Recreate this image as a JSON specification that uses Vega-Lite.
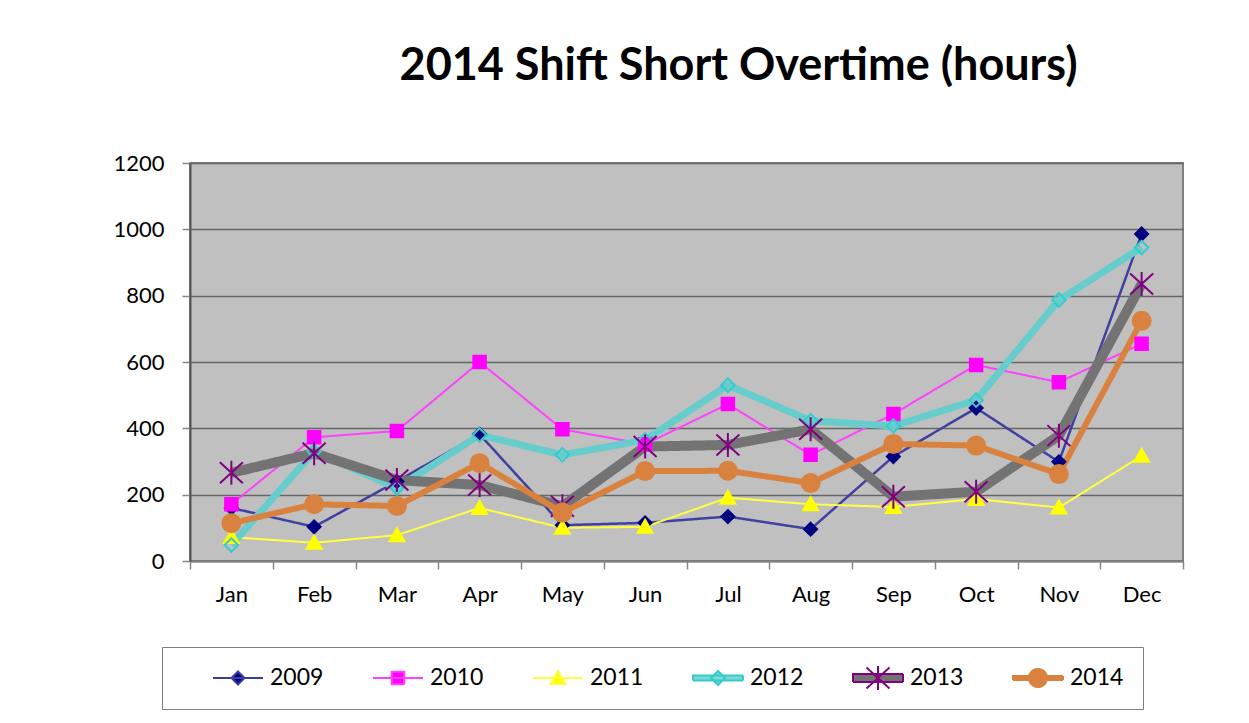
{
  "$schema": "https://vega.github.io/schema/vega-lite/v6.json",
  "width": 993,
  "height": 398,
  "autosize": {"type": "none"},
  "padding": {"left": 190, "top": 163, "right": 66, "bottom": 162},
  "background": "white",
  "title": {"text": "2014 Shift Short Overtime (hours)", "font": "Lato", "fontSize": 45, "fontWeight": "bold", "color": "black", "anchor": "middle", "dx": 52, "offset": 27, "baseline": "alphabetic"},
  "config": {"view": {"fill": "#c0c0c0", "stroke": "#808080", "strokeWidth": 2}},
  "data": {"values": [
    {"month": "Jan", "m": 1, "year": "2009", "value": 160}, {"month": "Feb", "m": 2, "year": "2009", "value": 103}, {"month": "Mar", "m": 3, "year": "2009", "value": 240}, {"month": "Apr", "m": 4, "year": "2009", "value": 382}, {"month": "May", "m": 5, "year": "2009", "value": 108}, {"month": "Jun", "m": 6, "year": "2009", "value": 115}, {"month": "Jul", "m": 7, "year": "2009", "value": 134}, {"month": "Aug", "m": 8, "year": "2009", "value": 96}, {"month": "Sep", "m": 9, "year": "2009", "value": 315}, {"month": "Oct", "m": 10, "year": "2009", "value": 461}, {"month": "Nov", "m": 11, "year": "2009", "value": 299}, {"month": "Dec", "m": 12, "year": "2009", "value": 986},
    {"month": "Jan", "m": 1, "year": "2010", "value": 171}, {"month": "Feb", "m": 2, "year": "2010", "value": 373}, {"month": "Mar", "m": 3, "year": "2010", "value": 392}, {"month": "Apr", "m": 4, "year": "2010", "value": 600}, {"month": "May", "m": 5, "year": "2010", "value": 397}, {"month": "Jun", "m": 6, "year": "2010", "value": 352}, {"month": "Jul", "m": 7, "year": "2010", "value": 473}, {"month": "Aug", "m": 8, "year": "2010", "value": 320}, {"month": "Sep", "m": 9, "year": "2010", "value": 443}, {"month": "Oct", "m": 10, "year": "2010", "value": 591}, {"month": "Nov", "m": 11, "year": "2010", "value": 539}, {"month": "Dec", "m": 12, "year": "2010", "value": 655},
    {"month": "Jan", "m": 1, "year": "2011", "value": 72}, {"month": "Feb", "m": 2, "year": "2011", "value": 55}, {"month": "Mar", "m": 3, "year": "2011", "value": 78}, {"month": "Apr", "m": 4, "year": "2011", "value": 160}, {"month": "May", "m": 5, "year": "2011", "value": 100}, {"month": "Jun", "m": 6, "year": "2011", "value": 103}, {"month": "Jul", "m": 7, "year": "2011", "value": 191}, {"month": "Aug", "m": 8, "year": "2011", "value": 171}, {"month": "Sep", "m": 9, "year": "2011", "value": 163}, {"month": "Oct", "m": 10, "year": "2011", "value": 187}, {"month": "Nov", "m": 11, "year": "2011", "value": 161}, {"month": "Dec", "m": 12, "year": "2011", "value": 317},
    {"month": "Jan", "m": 1, "year": "2012", "value": 48}, {"month": "Feb", "m": 2, "year": "2012", "value": 330}, {"month": "Mar", "m": 3, "year": "2012", "value": 220}, {"month": "Apr", "m": 4, "year": "2012", "value": 380}, {"month": "May", "m": 5, "year": "2012", "value": 320}, {"month": "Jun", "m": 6, "year": "2012", "value": 365}, {"month": "Jul", "m": 7, "year": "2012", "value": 530}, {"month": "Aug", "m": 8, "year": "2012", "value": 423}, {"month": "Sep", "m": 9, "year": "2012", "value": 407}, {"month": "Oct", "m": 10, "year": "2012", "value": 485}, {"month": "Nov", "m": 11, "year": "2012", "value": 787}, {"month": "Dec", "m": 12, "year": "2012", "value": 945},
    {"month": "Jan", "m": 1, "year": "2013", "value": 266}, {"month": "Feb", "m": 2, "year": "2013", "value": 325}, {"month": "Mar", "m": 3, "year": "2013", "value": 244}, {"month": "Apr", "m": 4, "year": "2013", "value": 229}, {"month": "May", "m": 5, "year": "2013", "value": 165}, {"month": "Jun", "m": 6, "year": "2013", "value": 345}, {"month": "Jul", "m": 7, "year": "2013", "value": 350}, {"month": "Aug", "m": 8, "year": "2013", "value": 397}, {"month": "Sep", "m": 9, "year": "2013", "value": 194}, {"month": "Oct", "m": 10, "year": "2013", "value": 209}, {"month": "Nov", "m": 11, "year": "2013", "value": 378}, {"month": "Dec", "m": 12, "year": "2013", "value": 835},
    {"month": "Jan", "m": 1, "year": "2014", "value": 114}, {"month": "Feb", "m": 2, "year": "2014", "value": 171}, {"month": "Mar", "m": 3, "year": "2014", "value": 166}, {"month": "Apr", "m": 4, "year": "2014", "value": 295}, {"month": "May", "m": 5, "year": "2014", "value": 146}, {"month": "Jun", "m": 6, "year": "2014", "value": 271}, {"month": "Jul", "m": 7, "year": "2014", "value": 272}, {"month": "Aug", "m": 8, "year": "2014", "value": 235}, {"month": "Sep", "m": 9, "year": "2014", "value": 353}, {"month": "Oct", "m": 10, "year": "2014", "value": 348}, {"month": "Nov", "m": 11, "year": "2014", "value": 262}, {"month": "Dec", "m": 12, "year": "2014", "value": 724}
  ]},
  "encoding": {
    "x": {"field": "month", "type": "nominal", "sort": ["Jan", "Feb", "Mar", "Apr", "May", "Jun", "Jul", "Aug", "Sep", "Oct", "Nov", "Dec"],
      "scale": {"type": "band", "paddingInner": 0, "paddingOuter": 0},
      "axis": {"title": null, "labelAngle": 0, "tickBand": "extent", "tickSize": 8, "tickColor": "#888888", "tickWidth": 1.5, "domainColor": "#808080", "domainWidth": 2, "labelFont": "Lato", "labelFontSize": 22, "labelColor": "black", "labelPadding": 15, "grid": false}},
    "y": {"field": "value", "type": "quantitative", "scale": {"domain": [0, 1200]},
      "axis": {"title": null, "values": [0, 200, 400, 600, 800, 1000, 1200], "format": "d", "grid": true, "gridColor": "#666666", "gridWidth": 1.3, "tickSize": 8, "tickColor": "#888888", "tickWidth": 1.5, "domainColor": "#555555", "domainWidth": 2, "labelFont": "Lato", "labelFontSize": 22, "labelColor": "black", "labelPadding": 18}},
    "order": {"field": "m", "type": "quantitative"}
  },
  "layer": [
    {
      "mark": {"type": "line", "strokeJoin": "round"},
      "encoding": {
        "color": {"field": "year", "type": "nominal",
          "scale": {"domain": ["2009", "2010", "2011", "2012", "2013", "2014"], "range": ["#4040a0", "#ff40ff", "#ffff40", "#66cccc", "#737373", "#d9823f"]},
          "legend": null},
        "strokeDash": {"field": "year", "type": "nominal",
          "scale": {"range": [[1, 0], [1, 0], [1, 0], [1, 0], [1, 0], [1, 0]]},
          "legend": {"orient": "none", "legendX": -28, "legendY": 484, "direction": "horizontal", "columns": 6, "gridAlign": "each", "title": null,
            "padding": 19, "strokeColor": "#7f7f7f", "symbolSize": 2500, "symbolStrokeWidth": 2, "symbolOffset": 31, "clipHeight": 24,
            "labelFont": "Lato", "labelFontSize": 23, "labelColor": "black", "labelOffset": 6, "columnPadding": 17,
            "labelExpr": "datum.label == '2014' ? '2014    ' : datum.label",
            "encode": {"symbols": {"update": {
              "shape": {"signal": "datum.value=='2009'?'M-1,0L1,0M0,-0.26L0.26,0L0,0.26L-0.26,0Z':datum.value=='2010'?'M-1,0L1,0M-0.25,-0.25L0.25,-0.25L0.25,0.25L-0.25,0.25Z':datum.value=='2011'?'M-1,0L1,0M0,-0.28L0.3,0.24L-0.3,0.24Z':datum.value=='2012'?'M-1,-0.1L1,-0.1L1,0.1L-1,0.1ZM0,-0.28L0.28,0L0,0.28L-0.28,0Z':datum.value=='2013'?'M-1,-0.16L1,-0.16L1,0.16L-1,0.16ZM-0.46,-0.42L0.46,0.42M-0.46,0.42L0.46,-0.42M0,-0.48L0,0.48':'M-1,-0.08L1,-0.08L1,0.08L-1,0.08ZM0.36,0A0.36,0.36,0,1,1,-0.36,0A0.36,0.36,0,1,1,0.36,0Z'"},
              "fill": {"signal": "datum.value=='2009'?'#000080':datum.value=='2010'?'#ff00ff':datum.value=='2011'?'#ffff00':datum.value=='2012'?'#7fd6d6':datum.value=='2013'?'#737373':'#d9823f'"},
              "stroke": {"signal": "datum.value=='2009'?'#3c3ca0':datum.value=='2010'?'#ff40ff':datum.value=='2011'?'#ffff40':datum.value=='2012'?'#33cccc':datum.value=='2013'?'#800080':'#d9823f'"},
              "strokeWidth": {"value": 2},
              "opacity": {"value": 1}
            }}}}
        },
        "strokeWidth": {"condition": [{"test": "datum.year=='2013'", "value": 10}, {"test": "datum.year=='2012'", "value": 7}, {"test": "datum.year=='2014'", "value": 6}, {"test": "datum.year=='2009'", "value": 2.5}], "value": 2}
      }
    },
    {
      "mark": {"type": "point", "size": 2500, "strokeWidth": 2, "opacity": 1},
      "encoding": {
        "fill": {"field": "year", "type": "nominal",
          "scale": {"range": ["#000080", "#ff00ff", "#ffff00", "transparent", "transparent", "#d9823f"]},
          "legend": null},
        "stroke": {"field": "year", "type": "nominal",
          "scale": {"range": ["#000080", "#ff00ff", "#ffff00", "#33cccc", "#800080", "#d9823f"]},
          "legend": null},
        "shape": {"field": "year", "type": "nominal",
          "scale": {"range": [
            "M0,-0.26L0.26,0L0,0.26L-0.26,0Z",
            "M-0.25,-0.25L0.25,-0.25L0.25,0.25L-0.25,0.25Z",
            "M0,-0.28L0.3,0.24L-0.3,0.24Z",
            "M0,-0.27L0.27,0L0,0.27L-0.27,0Z",
            "M-0.46,-0.42L0.46,0.42M-0.46,0.42L0.46,-0.42M0,-0.48L0,0.48",
            "M0.36,0A0.36,0.36,0,1,1,-0.36,0A0.36,0.36,0,1,1,0.36,0Z"
          ]},
          "legend": null}
      }
    }
  ]
}
